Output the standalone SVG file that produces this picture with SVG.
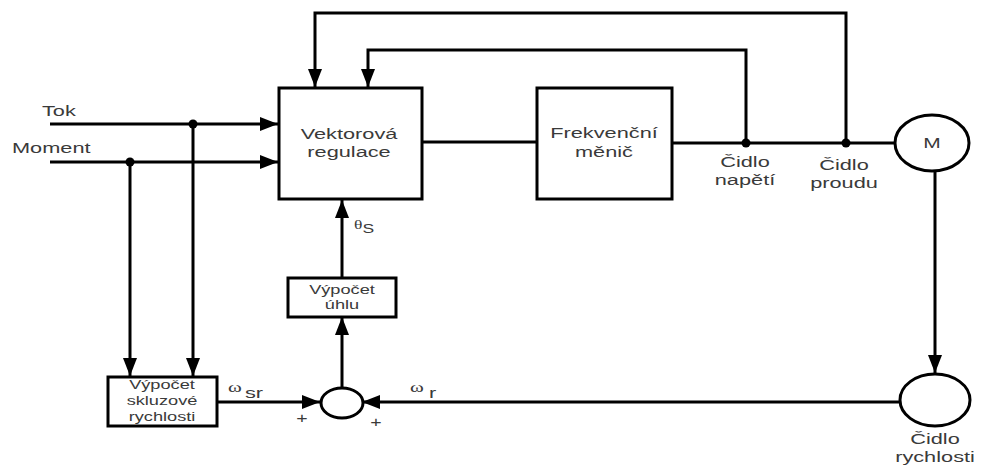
<svg xmlns="http://www.w3.org/2000/svg" width="1006" height="466" viewBox="0 0 1006 466">
<defs>
<style>
.box{fill:#fff;stroke:#000;stroke-width:3}
.ln{fill:none;stroke:#000;stroke-width:3}
.ar{marker-end:url(#arr)}
.t{font-family:"Liberation Sans",Arial,sans-serif;font-size:15px;fill:#3a3a3a;text-anchor:middle}
.s{text-anchor:start}
.ts{font-size:13px}
.g{font-family:"Liberation Serif","Times New Roman",serif}
.dot{fill:#000}
</style>
<marker id="arr" viewBox="0 0 18 14" refX="18" refY="7" markerWidth="18" markerHeight="14" markerUnits="userSpaceOnUse" orient="auto">
<path d="M0,0 L18,7 L0,14 Z" fill="#000"/>
</marker>
</defs>
<rect width="1006" height="466" fill="#fff"/>
<g id="connectors">
<path class="ln ar" d="M846,143 V13 H315 V87"/>
<path class="ln ar" d="M746,143 V50 H368 V87"/>
<path class="ln ar" d="M50,124 H278"/>
<path class="ln ar" d="M50,162 H278"/>
<path class="ln" d="M422,142 H537"/>
<path class="ln" d="M672,143 H895"/>
<path class="ln ar" d="M193,124 V376"/>
<path class="ln ar" d="M130,162 V376"/>
<path class="ln ar" d="M935,172 V373"/>
<path class="ln ar" d="M900,402 H362"/>
<path class="ln ar" d="M217,402 H320"/>
<path class="ln ar" d="M342,388 V317"/>
<path class="ln ar" d="M342,278 V200"/>
<circle class="dot" cx="193" cy="124" r="4.5"/>
<circle class="dot" cx="130" cy="162" r="4.5"/>
<circle class="dot" cx="746" cy="143" r="4.5"/>
<circle class="dot" cx="846" cy="143" r="4.5"/>
</g>
<g id="labels">
<text class="t s" transform="translate(42 116) scale(1.45 1)">Tok</text>
<text class="t s" transform="translate(12 153) scale(1.45 1)">Moment</text>
<text class="t" transform="translate(745 167) scale(1.45 1)">Čidlo</text>
<text class="t" transform="translate(745 185) scale(1.45 1)">napětí</text>
<text class="t" transform="translate(844 170) scale(1.45 1)">Čidlo</text>
<text class="t" transform="translate(844 188) scale(1.45 1)">proudu</text>
<text class="t" transform="translate(935 444) scale(1.45 1)">Čidlo</text>
<text class="t" transform="translate(935 462) scale(1.45 1)">rychlosti</text>
<text class="t s" transform="translate(354 229) scale(1.35 1)"><tspan class="g" font-size="13">θ</tspan><tspan font-size="13" dy="4">S</tspan></text>
<text class="t s g" transform="translate(228 392) scale(1.4 1)" font-size="13">ω</text>
<text class="t s" transform="translate(245 398) scale(1.45 1)">sr</text>
<text class="t s g" transform="translate(410 392) scale(1.4 1)" font-size="13">ω</text>
<text class="t s" transform="translate(429 398) scale(1.45 1)">r</text>
<text class="t" transform="translate(302 423) scale(1.3 1)" font-size="13">+</text>
<text class="t" transform="translate(376 427) scale(1.3 1)" font-size="13">+</text>
</g>
<g id="vektorova">
<rect class="box" x="279" y="88" width="143" height="111"/>
<text class="t" transform="translate(349 139) scale(1.45 1)">Vektorová</text>
<text class="t" transform="translate(349 157) scale(1.45 1)">regulace</text>
</g>
<g id="menic">
<rect class="box" x="537" y="88" width="135" height="111"/>
<text class="t" transform="translate(604 138) scale(1.45 1)">Frekvenční</text>
<text class="t" transform="translate(604 157) scale(1.45 1)">měnič</text>
</g>
<g id="motor">
<ellipse class="box" cx="932" cy="143" rx="37" ry="28"/>
<text class="t" transform="translate(932 148) scale(1.4 1)" font-size="14">M</text>
</g>
<g id="cidlo-rychlosti">
<ellipse class="box" cx="935" cy="400" rx="35" ry="26"/>
</g>
<g id="vypocet-uhlu">
<rect class="box" x="288" y="278" width="108" height="39"/>
<text class="t ts" transform="translate(342 294) scale(1.4 1)">Výpočet</text>
<text class="t ts" transform="translate(342 309) scale(1.4 1)">úhlu</text>
</g>
<g id="vypocet-skluzove">
<rect class="box" x="108" y="377" width="109" height="49"/>
<text class="t ts" transform="translate(162 389) scale(1.4 1)">Výpočet</text>
<text class="t ts" transform="translate(162 405) scale(1.4 1)">skluzové</text>
<text class="t ts" transform="translate(162 421) scale(1.4 1)">rychlosti</text>
</g>
<g id="sum">
<ellipse class="box" cx="342" cy="403" rx="21" ry="15"/>
</g>
</svg>
